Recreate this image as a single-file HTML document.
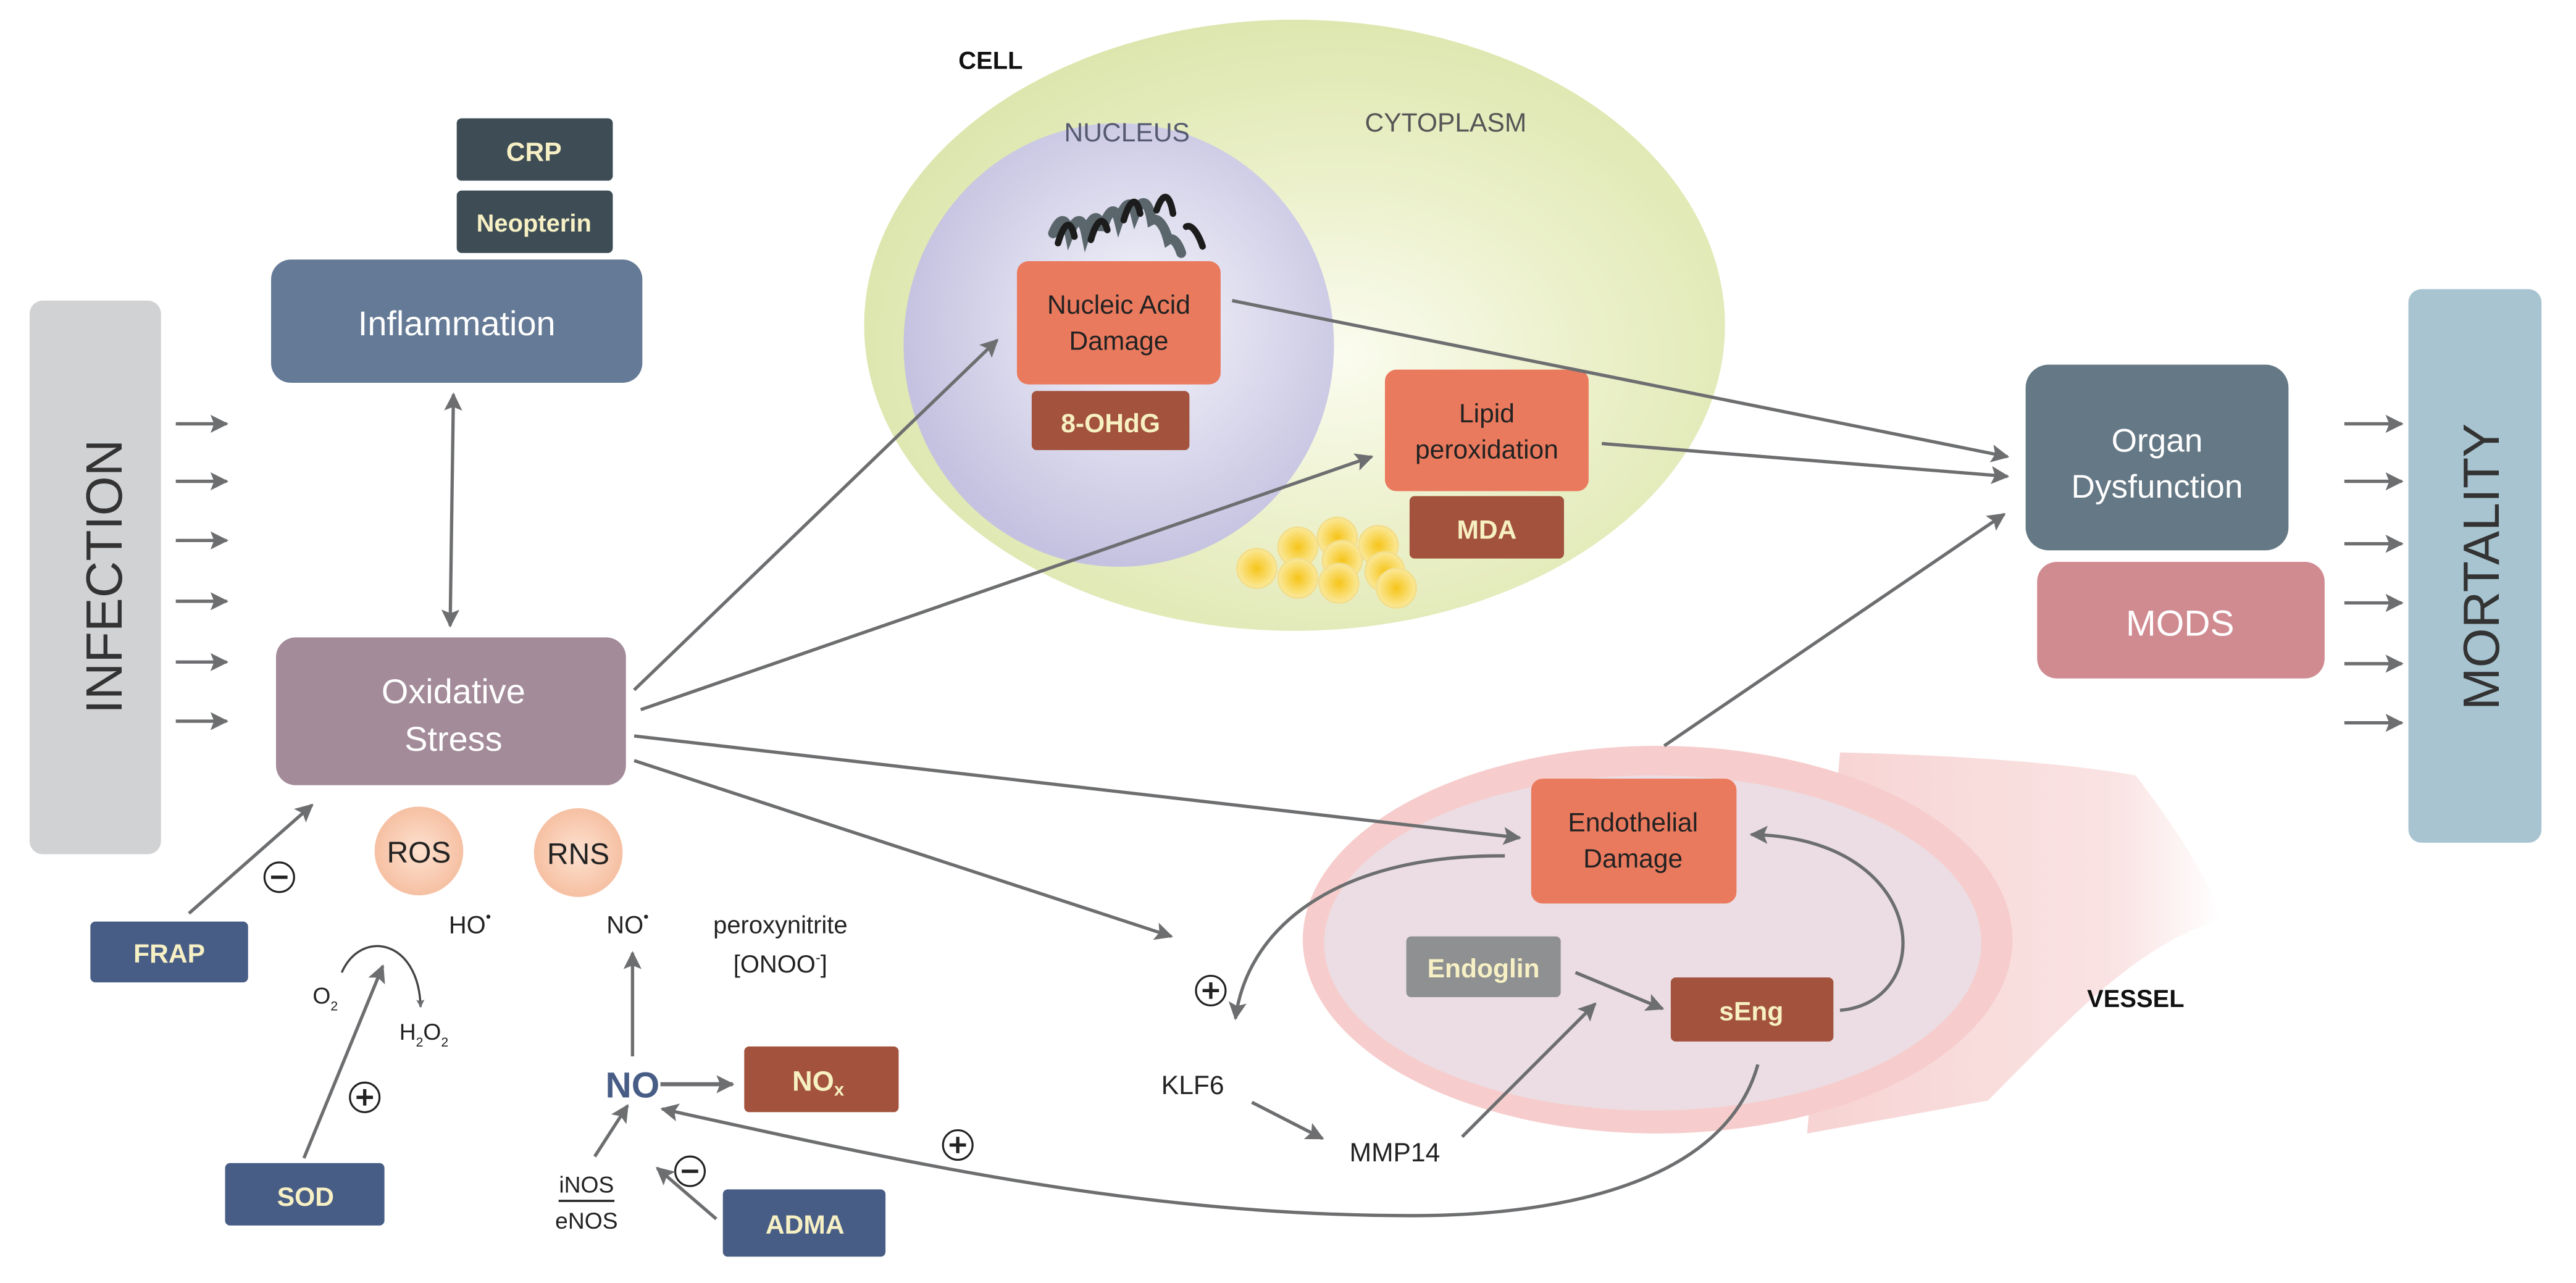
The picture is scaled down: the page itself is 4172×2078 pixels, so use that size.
<!DOCTYPE html>
<html><head><meta charset="utf-8"><style>html,body{margin:0;padding:0;background:#fff}svg{display:block}text{font-family:"Liberation Sans",sans-serif}</style></head>
<body>
<svg width="4172" height="2078" viewBox="0 0 1568 781" xmlns="http://www.w3.org/2000/svg">
<defs>
<marker id="a" viewBox="0 0 10 10" refX="9" refY="5" markerWidth="5" markerHeight="5" orient="auto-start-reverse" markerUnits="userSpaceOnUse"><path d="M0,0 L10,5 L0,10 L2,5 z" fill="#6d6e70"/></marker>
<marker id="b" viewBox="0 0 10 10" refX="9" refY="5" markerWidth="11" markerHeight="11" orient="auto-start-reverse" markerUnits="userSpaceOnUse"><path d="M0,0 L10,5 L0,10 L2,5 z" fill="#6d6e70"/></marker>
<radialGradient id="cell" cx="0.55" cy="0.55" r="0.6"><stop offset="0" stop-color="#fbfcf0"/><stop offset="0.5" stop-color="#ebf0c9"/><stop offset="1" stop-color="#dbe5aa"/></radialGradient>
<radialGradient id="nuc" cx="0.55" cy="0.45" r="0.55"><stop offset="0" stop-color="#f6f5fb"/><stop offset="1" stop-color="#c4c2e0"/></radialGradient>
<radialGradient id="ball" cx="0.5" cy="0.5" r="0.5"><stop offset="0" stop-color="#f6c51a"/><stop offset="1" stop-color="#fbe99a"/></radialGradient>
<radialGradient id="ros" cx="0.5" cy="0.5" r="0.5"><stop offset="0" stop-color="#fde1cf"/><stop offset="1" stop-color="#f6c0a3"/></radialGradient>
<linearGradient id="tail" x1="0" x2="1"><stop offset="0" stop-color="#f7d3d3"/><stop offset="0.75" stop-color="#fae3e3"/><stop offset="1" stop-color="#fff"/></linearGradient>
</defs>
<!-- INFECTION -->
<rect x="18" y="183" width="80" height="337" rx="8" fill="#d1d2d4"/>
<text transform="translate(74,351) rotate(-90)" font-size="31" fill="#333" text-anchor="middle">INFECTION</text>
<g stroke="#6d6e70" stroke-width="2" marker-end="url(#b)">
<line x1="107" y1="258" x2="138" y2="258"/><line x1="107" y1="293" x2="138" y2="293"/><line x1="107" y1="329" x2="138" y2="329"/><line x1="107" y1="366" x2="138" y2="366"/><line x1="107" y1="403" x2="138" y2="403"/><line x1="107" y1="439" x2="138" y2="439"/>
<line x1="1427" y1="258" x2="1462" y2="258"/><line x1="1427" y1="293" x2="1462" y2="293"/><line x1="1427" y1="331" x2="1462" y2="331"/><line x1="1427" y1="367" x2="1462" y2="367"/><line x1="1427" y1="404" x2="1462" y2="404"/><line x1="1427" y1="440" x2="1462" y2="440"/>
</g>
<!-- MORTALITY -->
<rect x="1466" y="176" width="81" height="337" rx="8" fill="#a8c4d1"/>
<text transform="translate(1521,345) rotate(-90)" font-size="31" fill="#333" text-anchor="middle">MORTALITY</text>
<!-- Inflammation -->
<rect x="278" y="72" width="95" height="38" rx="3" fill="#3e4d55"/>
<text x="325" y="98" font-size="16" font-weight="bold" fill="#f6f0c4" text-anchor="middle">CRP</text>
<rect x="278" y="116" width="95" height="38" rx="3" fill="#3e4d55"/>
<text x="325" y="141" font-size="15" font-weight="bold" fill="#f6f0c4" text-anchor="middle">Neopterin</text>
<rect x="165" y="158" width="226" height="75" rx="12" fill="#657a96"/>
<text x="278" y="204" font-size="21" fill="#fff" text-anchor="middle">Inflammation</text>
<rect x="168" y="388" width="213" height="90" rx="12" fill="#a38b9a"/>
<text x="276" y="428" font-size="21" fill="#fff" text-anchor="middle">Oxidative</text>
<text x="276" y="457" font-size="21" fill="#fff" text-anchor="middle">Stress</text>
<line x1="276" y1="240" x2="274" y2="381" stroke="#6d6e70" stroke-width="2" marker-start="url(#b)" marker-end="url(#b)"/>
<circle cx="255" cy="518" r="27" fill="url(#ros)"/><text x="255" y="525" font-size="18" fill="#222" text-anchor="middle">ROS</text>
<circle cx="352" cy="519" r="27" fill="url(#ros)"/><text x="352" y="526" font-size="18" fill="#222" text-anchor="middle">RNS</text>
<!-- FRAP etc -->
<rect x="55" y="561" width="96" height="37" rx="3" fill="#485d85"/>
<text x="103" y="586" font-size="16" font-weight="bold" fill="#f6f0c4" text-anchor="middle">FRAP</text>
<line x1="115" y1="556" x2="190" y2="490" stroke="#6d6e70" stroke-width="2" marker-end="url(#b)"/>
<g fill="#fff" stroke="#222" stroke-width="1.2"><circle cx="170" cy="534" r="9"/><circle cx="222" cy="668" r="9"/><circle cx="420" cy="713" r="9"/><circle cx="583" cy="697" r="9"/><circle cx="737" cy="603" r="9"/><circle cx="1088" cy="496" r="9"/></g>
<g stroke="#222" stroke-width="2"><line x1="165" y1="534" x2="175" y2="534"/><line x1="415" y1="713" x2="425" y2="713"/>
<path d="M217,668h10M222,663v10M578,697h10M583,692v10M732,603h10M737,598v10M1083,496h10M1088,491v10"/></g>
<text x="286" y="568" font-size="15" fill="#222" text-anchor="middle">HO<tspan font-size="9" dy="-7">•</tspan></text>
<text x="382" y="568" font-size="15" fill="#222" text-anchor="middle">NO<tspan font-size="9" dy="-7">•</tspan></text>
<text x="475" y="568" font-size="15" fill="#222" text-anchor="middle">peroxynitrite</text>
<text x="475" y="592" font-size="15" fill="#222" text-anchor="middle">[ONOO<tspan font-size="9" dy="-6">-</tspan><tspan dy="6">]</tspan></text>
<text x="198" y="611" font-size="14" fill="#222" text-anchor="middle">O<tspan font-size="8" dy="4">2</tspan></text>
<text x="258" y="633" font-size="14" fill="#222" text-anchor="middle">H<tspan font-size="8" dy="4">2</tspan><tspan dy="-4">O</tspan><tspan font-size="8" dy="4">2</tspan></text>
<path d="M208,592 C220,565 255,572 256,613" stroke="#444" stroke-width="1.3" fill="none" marker-end="url(#a)"/>
<rect x="137" y="708" width="97" height="38" rx="3" fill="#485d85"/>
<text x="186" y="734" font-size="16" font-weight="bold" fill="#f6f0c4" text-anchor="middle">SOD</text>
<line x1="185" y1="705" x2="233" y2="588" stroke="#6d6e70" stroke-width="2" marker-end="url(#b)"/>
<!-- NO -->
<text x="385" y="668" font-size="22" font-weight="bold" fill="#485d85" text-anchor="middle">NO</text>
<line x1="385" y1="643" x2="385" y2="580" stroke="#6d6e70" stroke-width="2" marker-end="url(#b)"/>
<line x1="402" y1="660" x2="446" y2="660" stroke="#6d6e70" stroke-width="2.5" marker-end="url(#b)"/>
<rect x="453" y="637" width="94" height="40" rx="3" fill="#a3523d"/>
<text x="498" y="664" font-size="17" font-weight="bold" fill="#f6f0c4" text-anchor="middle">NO<tspan font-size="11" dy="3">x</tspan></text>
<text x="357" y="726" font-size="14" fill="#222" text-anchor="middle">iNOS</text>
<line x1="340" y1="731" x2="374" y2="731" stroke="#222" stroke-width="1.3"/>
<text x="357" y="748" font-size="14" fill="#222" text-anchor="middle">eNOS</text>
<line x1="362" y1="704" x2="382" y2="673" stroke="#6d6e70" stroke-width="2" marker-end="url(#b)"/>
<rect x="440" y="724" width="99" height="41" rx="3" fill="#485d85"/>
<text x="490" y="751" font-size="16" font-weight="bold" fill="#f6f0c4" text-anchor="middle">ADMA</text>
<line x1="436" y1="742" x2="400" y2="711" stroke="#6d6e70" stroke-width="2" marker-end="url(#b)"/>
<!-- CELL -->
<ellipse cx="788" cy="198" rx="262" ry="186" fill="url(#cell)"/>
<text x="603" y="42" font-size="15" font-weight="bold" fill="#111" text-anchor="middle">CELL</text>
<ellipse cx="681" cy="210" rx="131" ry="135" fill="url(#nuc)"/>
<text x="686" y="86" font-size="16" fill="#555a70" text-anchor="middle">NUCLEUS</text>
<text x="880" y="80" font-size="16" fill="#555" text-anchor="middle">CYTOPLASM</text>
<g fill="none" stroke-width="6" stroke-linecap="round">
<path d="M641,142 c4,-10 8,-10 10,0 c4,-10 8,-10 10,0 c4,-12 8,-12 10,-2 c4,-14 8,-14 10,-6 c4,-12 8,-12 10,-4 c4,-10 8,-8 10,4 c4,-2 8,4 10,12 c3,-2 6,2 8,8" stroke="#5a666b"/>
<path d="M644,148 c4,-14 8,-14 10,-4 M664,146 c4,-14 8,-14 10,-6 M684,134 c4,-14 8,-14 10,-4 M704,128 c4,-12 8,-10 10,2 M722,138 c4,-2 8,6 10,12" stroke="#1c1c1c" stroke-width="4"/>
</g>
<rect x="619" y="159" width="124" height="75" rx="7" fill="#ea7a5e"/>
<text x="681" y="191" font-size="16" fill="#222" text-anchor="middle">Nucleic Acid</text>
<text x="681" y="213" font-size="16" fill="#222" text-anchor="middle">Damage</text>
<rect x="628" y="238" width="96" height="36" rx="3" fill="#a3523d"/>
<text x="676" y="263" font-size="16" font-weight="bold" fill="#f6f0c4" text-anchor="middle">8-OHdG</text>
<rect x="843" y="225" width="124" height="74" rx="7" fill="#ea7a5e"/>
<text x="905" y="257" font-size="16" fill="#222" text-anchor="middle">Lipid</text>
<text x="905" y="279" font-size="16" fill="#222" text-anchor="middle">peroxidation</text>
<rect x="858" y="302" width="94" height="38" rx="3" fill="#a3523d"/>
<text x="905" y="328" font-size="16" font-weight="bold" fill="#f6f0c4" text-anchor="middle">MDA</text>
<g fill="url(#ball)" stroke="#f3dd8a" stroke-width="1">
<circle cx="814" cy="327" r="12"/><circle cx="839" cy="332" r="12"/><circle cx="790" cy="333" r="12"/><circle cx="817" cy="341" r="12"/><circle cx="843" cy="348" r="12"/><circle cx="765" cy="346" r="12"/><circle cx="790" cy="352" r="12"/><circle cx="815" cy="355" r="12"/><circle cx="850" cy="358" r="12"/>
</g>
<!-- VESSEL -->
<path d="M1120,458 C1200,460 1260,465 1300,472 C1325,505 1345,535 1352,560 C1300,575 1260,620 1210,670 L1100,690 Z" fill="url(#tail)"/>
<ellipse cx="1009" cy="572" rx="216" ry="118" fill="#f6cdcc"/>
<ellipse cx="1006" cy="574" rx="200" ry="102" fill="#ebdde3"/>
<text x="1300" y="613" font-size="15" font-weight="bold" fill="#111" text-anchor="middle">VESSEL</text>
<rect x="932" y="474" width="125" height="76" rx="7" fill="#ea7a5e"/>
<text x="994" y="506" font-size="16" fill="#222" text-anchor="middle">Endothelial</text>
<text x="994" y="528" font-size="16" fill="#222" text-anchor="middle">Damage</text>
<rect x="856" y="570" width="94" height="37" rx="3" fill="#8f9091"/>
<text x="903" y="595" font-size="16" font-weight="bold" fill="#f6f0c4" text-anchor="middle">Endoglin</text>
<rect x="1017" y="595" width="99" height="39" rx="3" fill="#a3523d"/>
<text x="1066" y="621" font-size="16" font-weight="bold" fill="#f6f0c4" text-anchor="middle">sEng</text>
<!-- Organ -->
<rect x="1233" y="222" width="160" height="113" rx="14" fill="#647885"/>
<text x="1313" y="275" font-size="20" fill="#fff" text-anchor="middle">Organ</text>
<text x="1313" y="303" font-size="20" fill="#fff" text-anchor="middle">Dysfunction</text>
<rect x="1240" y="342" width="175" height="71" rx="12" fill="#d08b91"/>
<text x="1327" y="387" font-size="22" fill="#fff" text-anchor="middle">MODS</text>
<!-- arrows -->
<g stroke="#6d6e70" stroke-width="2" fill="none" marker-end="url(#b)">
<line x1="386" y1="420" x2="607" y2="207"/>
<line x1="390" y1="432" x2="835" y2="278"/>
<line x1="386" y1="448" x2="925" y2="510"/>
<line x1="386" y1="463" x2="713" y2="570"/>
<line x1="750" y1="183" x2="1222" y2="278"/>
<line x1="975" y1="270" x2="1222" y2="290"/>
<line x1="1013" y1="454" x2="1220" y2="313"/>
<path d="M916,521 C820,520 760,560 752,620"/>
<path d="M1120,615 C1180,610 1175,510 1066,508"/>
<line x1="959" y1="592" x2="1012" y2="614"/>
<line x1="890" y1="692" x2="971" y2="611"/>
<line x1="762" y1="671" x2="805" y2="693"/>
<path d="M1070,648 C1050,720 950,740 860,740 C700,740 560,710 403,675"/>
</g>
<text x="726" y="666" font-size="16" fill="#222" text-anchor="middle">KLF6</text>
<text x="849" y="707" font-size="16" fill="#222" text-anchor="middle">MMP14</text>
</svg>
</body></html>
